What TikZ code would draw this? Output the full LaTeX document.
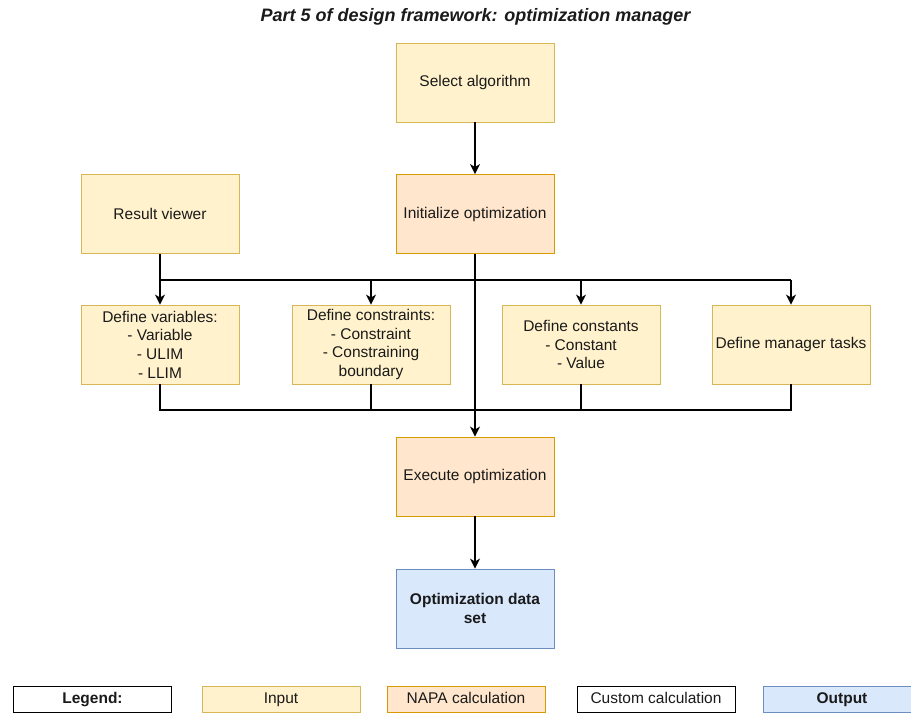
\documentclass[tikz,border=0pt]{standalone}
\usepackage{fontspec}
\setmainfont{Liberation Sans}
\usetikzlibrary{arrows.meta}
\definecolor{inFill}{HTML}{FFF2CC}
\definecolor{inDraw}{HTML}{D6B656}
\definecolor{napaFill}{HTML}{FFE6CC}
\definecolor{napaDraw}{HTML}{D79B00}
\definecolor{outFill}{HTML}{DAE8FC}
\definecolor{outDraw}{HTML}{6C8EBF}
\definecolor{txt}{HTML}{1A1A1A}
\tikzset{
  box/.style={rectangle, minimum width=158pt, minimum height=79pt, inner sep=2pt,
    align=center, line width=0.9pt, text=txt, font=\fontsize{15.5}{18.6}\selectfont},
  inbox/.style={box, fill=inFill, draw=inDraw},
  napabox/.style={box, fill=napaFill, draw=napaDraw},
  outbox/.style={box, fill=outFill, draw=outDraw, font=\fontsize{15.5}{18.6}\selectfont\bfseries},
  legbox/.style={rectangle, minimum width=158pt, minimum height=26pt, inner sep=0pt,
    text height=11.5pt, text depth=3.5pt,
    line width=0.9pt, text=txt, font=\fontsize{15.5}{18.6}\selectfont},
  wire/.style={line width=1.1pt, black},
  arr/.style={wire, -{Stealth[length=10pt,width=10pt,inset=3pt]}}
}
\begin{document}
\begin{tikzpicture}[x=1pt, y=-1pt]
\useasboundingbox (0,0) rectangle (911,713);
\node[font=\fontsize{18}{21}\selectfont\bfseries\itshape, text=txt] (title) at (475.5,17) {Part 5 of design framework: optimization manager};
\node[inbox] (sel) at (475,82.5) {Select algorithm};
\node[napabox] (init) at (475,214) {Initialize optimization};
\node[inbox] (res) at (160,214) {Result viewer};
\node[inbox] (dvar) at (160,344.5) {Define variables:\\- Variable\\- ULIM\\- LLIM};
\node[inbox] (dcon) at (371,344.5) {Define constraints:\\- Constraint\\- Constraining\\boundary};
\node[inbox] (dcst) at (581,344.5) {Define constants\\- Constant\\- Value};
\node[inbox] (dmgr) at (791,344.5) {Define manager tasks};
\node[napabox] (exec) at (475,476.5) {Execute optimization};
\node[outbox] (out) at (475,608.5) {Optimization data\\set};
% legend
\node[legbox, draw=black, fill=white, font=\fontsize{15.5}{18.6}\selectfont\bfseries] (lleg) at (92.5,699) {Legend:};
\node[legbox, draw=inDraw, fill=inFill] (lin) at (281,699) {Input};
\node[legbox, draw=napaDraw, fill=napaFill] (lnapa) at (466,699) {NAPA calculation};
\node[legbox, draw=black, fill=white] (lcus) at (656,699) {Custom calculation};
\node[legbox, draw=outDraw, fill=outFill, font=\fontsize{15.5}{18.6}\selectfont\bfseries] (lout) at (842,699) {Output};
% connectors
\coordinate (bt) at (0,280);
\coordinate (bb) at (0,410);
\draw[arr] (sel) -- (init);
\draw[wire] (res.south) -- (res.south|-bt) -- (dmgr.north|-bt);
\draw[arr] (res.south|-bt) -- (dvar.north);
\draw[arr] (dcon.north|-bt) -- (dcon.north);
\draw[arr] (dcst.north|-bt) -- (dcst.north);
\draw[arr] (dmgr.north|-bt) -- (dmgr.north);
\draw[wire] (dvar.south) |- (dmgr.south|-bb) -- (dmgr.south);
\draw[wire] (dcon.south) -- (dcon.south|-bb);
\draw[wire] (dcst.south) -- (dcst.south|-bb);
\draw[arr] (init) -- (exec);
\draw[arr] (exec) -- (out);
\end{tikzpicture}
\end{document}
